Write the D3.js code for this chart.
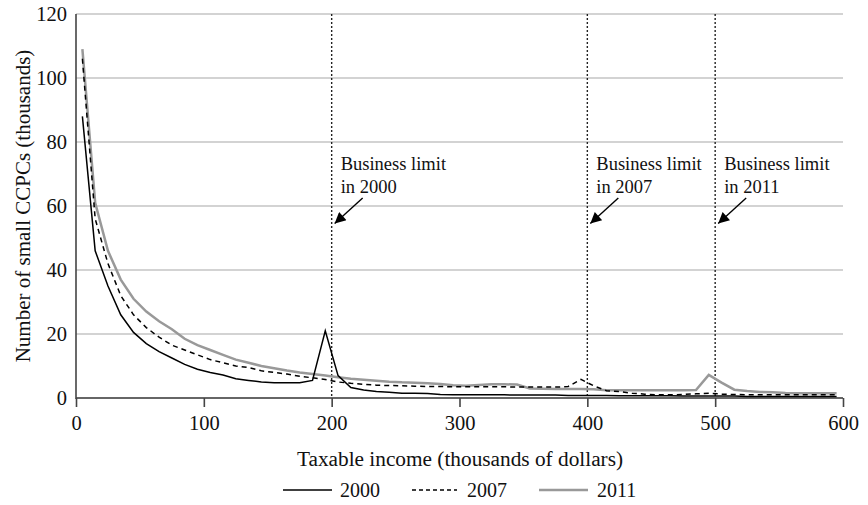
<!DOCTYPE html>
<html><head><meta charset="utf-8">
<script src="https://cdn.jsdelivr.net/npm/d3@7"></script>
<style>body{margin:0;background:#fff}svg{display:block}text{font-family:"Liberation Serif","Times New Roman",serif;fill:#111}</style>
</head><body><svg id="c" width="868" height="505"></svg>
<script>
const incomes = d3.range(5, 600, 10);
const s2000 = [88,46,35,26,20.5,17,14.5,12.5,10.5,9,8,7.2,6,5.5,5,4.8,4.8,4.8,5.5,21,7,3.3,2.5,2,1.8,1.5,1.5,1.4,1.1,1,1,1,1,1,0.9,0.9,0.9,0.9,0.8,0.8,0.8,0.8,0.7,0.7,0.7,0.7,0.7,0.6,0.6,0.6,0.6,0.6,0.5,0.5,0.5,0.5,0.5,0.5,0.5,0.5];
const s2007 = [106,56,42,32,26,22,19,16.5,15,13.5,12,11,10,9.5,8.5,8,7.5,6.8,6.3,5.8,5,4.6,4.3,4,3.9,3.8,3.7,3.6,3.6,3.5,3.5,3.5,3.5,3.5,3.4,3.4,3.4,3.4,3.6,5.8,3.8,2.3,2,1.5,1.2,1,1,1.1,1.3,1.5,1.2,1.1,1,1,1,1,1,1,1,1];
const s2011 = [109,61,46,37,31,27,24,21.5,18.5,16.5,15,13.5,12,11,10,9.3,8.6,8,7.5,7,6.5,6,5.7,5.4,5.1,4.9,4.8,4.6,4.4,4,3.8,4.1,4.3,4.3,4.2,3,2.9,2.8,2.8,2.8,2.7,2.4,2.4,2.4,2.4,2.4,2.4,2.4,2.5,7.2,4.8,2.6,2.2,1.9,1.8,1.6,1.5,1.5,1.5,1.5];
const xTicks = [0,100,200,300,400,500,600];
const yTicks = [0,20,40,60,80,100,120];
const limits = [{x:200, year:"2000"},{x:400, year:"2007"},{x:500, year:"2011"}];
const seriesNames = ["2000","2007","2011"];

const svg = d3.select("#c");
const x = d3.scaleLinear().domain([0,600]).range([76,843]);
const y = d3.scaleLinear().domain([0,120]).range([398,14]);

// gridlines
svg.append("g").selectAll("line").data(yTicks.filter(d=>d>0)).join("line")
  .attr("x1",x(0)).attr("x2",x(600)).attr("y1",d=>y(d)).attr("y2",d=>y(d))
  .attr("stroke","#a8a8a8").attr("stroke-width",1.2);

// axes
const xAxis = svg.append("g").attr("transform",`translate(0,${y(0)})`)
  .call(d3.axisBottom(x).tickValues(xTicks).tickSize(9).tickPadding(8).tickFormat(d3.format("d")));
xAxis.select(".domain").attr("stroke","#333").attr("stroke-width",1.6).attr("d",`M${x(0)},0H${x(600)}`);
xAxis.selectAll(".tick line").attr("stroke","#444").attr("stroke-width",1.6);
xAxis.selectAll("text").attr("font-size","20.5px").style("font-family","Liberation Serif").attr("fill","#111");

const yAxis = svg.append("g").attr("transform",`translate(${x(0)},0)`)
  .call(d3.axisLeft(y).tickValues(yTicks).tickSize(0).tickPadding(9));
yAxis.select(".domain").attr("stroke","#444").attr("stroke-width",1.6).attr("d",`M0,${y(0)+1}V${y(120)}`);
yAxis.selectAll("text").attr("font-size","20.5px").style("font-family","Liberation Serif").attr("fill","#111");

// limit lines
svg.append("g").selectAll("line").data(limits).join("line")
  .attr("x1",d=>x(d.x)).attr("x2",d=>x(d.x)).attr("y1",y(120)).attr("y2",y(0))
  .attr("stroke","#222").attr("stroke-width",1.4).attr("stroke-dasharray","2,2");

// series
const line = d3.line().x((d,i)=>x(incomes[i])).y(d=>y(d));
const styles = [
  {data:s2000, stroke:"#000", w:1.5, dash:null},
  {data:s2007, stroke:"#000", w:1.5, dash:"5,4"},
  {data:s2011, stroke:"#999", w:2.5, dash:null}
];
[styles[2], styles[1], styles[0]].forEach(s=>{
  svg.append("path").attr("d",line(s.data)).attr("fill","none")
    .attr("stroke",s.stroke).attr("stroke-width",s.w)
    .attr("stroke-dasharray",s.dash).attr("stroke-linejoin","miter");
});

// annotations
const defs = svg.append("defs");
defs.append("marker").attr("id","ah").attr("viewBox","0 0 10 10").attr("refX",10).attr("refY",5)
  .attr("markerWidth",16).attr("markerHeight",11).attr("markerUnits","userSpaceOnUse").attr("orient","auto")
  .append("path").attr("d","M0,0L10,5L0,10Z").attr("fill","#000");

const ann = svg.append("g").selectAll("g").data(limits).join("g");
ann.append("text").attr("x",d=>x(d.x)+9).attr("y",170).attr("font-size","18.5px").text("Business limit");
ann.append("text").attr("x",d=>x(d.x)+9).attr("y",193).attr("font-size","18.5px").text(d=>"in "+d.year);
ann.append("line").attr("x1",d=>x(d.x)+31).attr("y1",198).attr("x2",d=>x(d.x)+3).attr("y2",223.5)
  .attr("stroke","#000").attr("stroke-width",1.4).attr("marker-end","url(#ah)");

// axis titles
svg.append("text").attr("x",460).attr("y",466).attr("text-anchor","middle")
  .attr("font-size","21.3px").text("Taxable income (thousands of dollars)");
svg.append("text").attr("transform",`translate(30,${(y(0)+y(120))/2}) rotate(-90)`).attr("text-anchor","middle")
  .attr("font-size","21px").text("Number of small CCPCs (thousands)");

// legend
const leg = [
  {x1:283,x2:332,tx:340},
  {x1:412,x2:457,tx:467},
  {x1:539,x2:588,tx:597}
];
const lg = svg.append("g");
leg.forEach((l,i)=>{
  const s = styles[i];
  lg.append("line").attr("x1",l.x1).attr("x2",l.x2).attr("y1",490).attr("y2",490)
    .attr("stroke",s.stroke).attr("stroke-width",s.w).attr("stroke-dasharray",i===1?"4,3":null);
  lg.append("text").attr("x",l.tx).attr("y",497).attr("font-size","20px").text(seriesNames[i]);
});
</script></body></html>
